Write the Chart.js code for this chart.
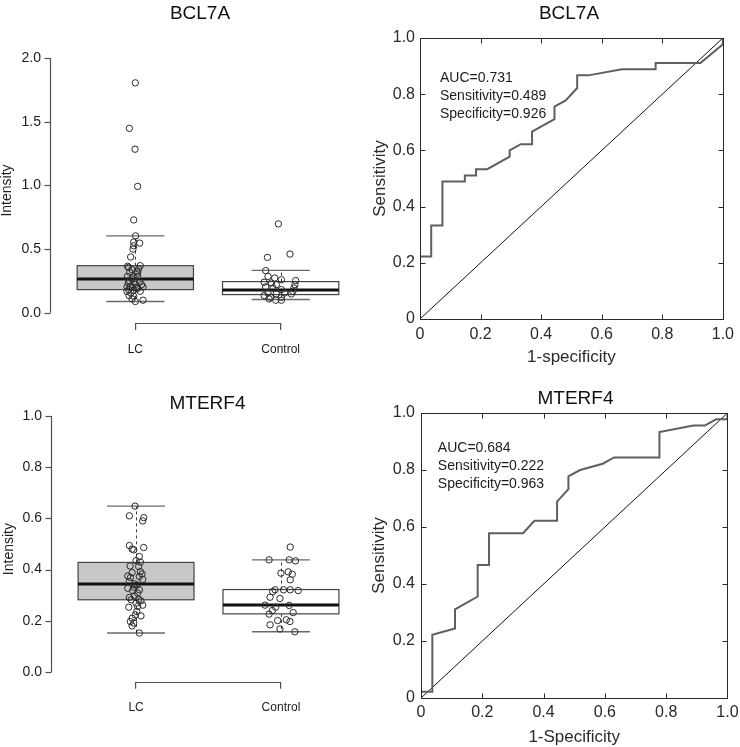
<!DOCTYPE html>
<html>
<head>
<meta charset="utf-8">
<script src="https://cdn.jsdelivr.net/npm/chart.js@4.4.0/dist/chart.umd.min.js"></script>
<style>
  html, body { margin: 0; padding: 0; background: #fff; overflow: hidden; }
  .panel { position: absolute; }
</style>
</head>
<body>
<div class="panel" style="left:0;top:0;width:370px;height:370px"><canvas id="boxBCL7A"></canvas></div>
<div class="panel" style="left:370px;top:0;width:370px;height:370px"><canvas id="rocBCL7A"></canvas></div>
<div class="panel" style="left:0;top:370px;width:370px;height:377px"><canvas id="boxMTERF4"></canvas></div>
<div class="panel" style="left:370px;top:370px;width:374px;height:377px"><canvas id="rocMTERF4"></canvas></div>
<script>
// ---- data ----
const GROUPS = ['LC', 'Control'];

// box stats: [lower whisker, Q1, median, Q3, upper whisker]
const BCL7A_LC_STATS = [0.089, 0.182, 0.266, 0.370, 0.604];
const BCL7A_CTRL_STATS = [0.104, 0.143, 0.180, 0.245, 0.333];
const MTERF4_LC_STATS = [0.152, 0.282, 0.344, 0.428, 0.648];
const MTERF4_CTRL_STATS = [0.157, 0.227, 0.262, 0.322, 0.438];

// individual samples and their horizontal jitter
const BCL7A_LC_VALUES = [1.805, 1.448, 1.284, 0.992, 0.729, 0.604, 0.555, 0.547, 0.526, 0.500, 0.438, 0.370, 0.357, 0.339, 0.326,
  0.286, 0.286, 0.266, 0.247, 0.234, 0.221, 0.221, 0.203, 0.203, 0.203, 0.182, 0.177, 0.193, 0.167, 0.156,
  0.135, 0.109, 0.089, 0.099, 0.253, 0.312, 0.281, 0.208, 0.169, 0.247, 0.195, 0.318, 0.344, 0.365, 0.130];
const BCL7A_LC_JITTER = [0, -0.041, -0.002, 0.016, -0.011, 0.002, -0.011, 0.030, -0.011, -0.016, -0.032, 0.034, -0.046, -0.023, 0.011,
  -0.053, 0.016, -0.023, 0.030, -0.048, 0, 0.043, -0.057, -0.023, 0.053, -0.046, -0.011, 0.018, -0.057, -0.030,
  -0.043, -0.023, 0, 0.053, -0.041, 0.016, -0.016, -0.034, 0.034, -0.007, 0.007, -0.039, 0.023, -0.053, -0.011];
const BCL7A_CTRL_VALUES = [0.698, 0.461, 0.435, 0.331, 0.286, 0.273, 0.260, 0.253, 0.240, 0.234, 0.221, 0.221, 0.203, 0.195,
  0.195, 0.182, 0.169, 0.156, 0.148, 0.156, 0.148, 0.135, 0.122, 0.122, 0.109, 0.099, 0.099];
const BCL7A_CTRL_JITTER = [-0.016, 0.064, -0.091, -0.103, -0.087, -0.041, 0.005, 0.103, -0.114, -0.064, -0.030, 0.098, -0.103, -0.053,
  0.091, 0.005, 0.084, -0.087, -0.030, 0.027, 0.073, -0.114, -0.071, 0.005, -0.080, -0.034, 0.005];

const MTERF4_LC_VALUES = [0.648, 0.610, 0.603, 0.590, 0.494, 0.480, 0.486, 0.477, 0.451, 0.435, 0.429, 0.412, 0.392, 0.388, 0.375,
  0.369, 0.362, 0.373, 0.353, 0.344, 0.340, 0.327, 0.321, 0.318, 0.291, 0.297, 0.284, 0.278, 0.269, 0.261,
  0.253, 0.256, 0.223, 0.219, 0.210, 0.197, 0.191, 0.180, 0.152, 0.236, 0.282, 0.331, 0.383, 0.414, 0.308];
const MTERF4_LC_JITTER = [-0.007, -0.046, 0.053, 0.046, -0.046, -0.027, 0.053, -0.016, 0.023, 0, 0.030, 0.018, 0.030, -0.027, -0.057,
  -0.039, 0.046, 0.023, -0.046, -0.011, 0.007, -0.057, 0.023, -0.023, -0.046, -0.011, 0.018, 0.034, 0, 0.046,
  -0.050, 0.011, -0.005, 0.034, -0.027, -0.039, -0.016, -0.027, 0.023, 0.005, -0.034, -0.011, 0.041, -0.041, 0.011];
const MTERF4_CTRL_VALUES = [0.488, 0.438, 0.438, 0.434, 0.391, 0.386, 0.382, 0.360, 0.321, 0.321, 0.321, 0.318, 0.314, 0.292,
  0.287, 0.261, 0.260, 0.253, 0.240, 0.232, 0.226, 0.201, 0.204, 0.197, 0.184, 0.168, 0.157];
const MTERF4_CTRL_JITTER = [0.064, -0.082, 0.057, 0.100, 0.050, 0, 0.078, 0.064, -0.041, 0.018, 0.064, 0.119, -0.057, -0.075,
  -0.007, -0.110, 0.057, -0.037, -0.059, 0.084, -0.082, -0.023, 0.037, 0.062, -0.075, -0.007, 0.096];

const BCL7A_Y_TICKS = [0, 0.5, 1.0, 1.5, 2.0];
const MTERF4_Y_TICKS = [0, 0.2, 0.4, 0.6, 0.8, 1.0];

// ROC curves (1 - specificity, sensitivity)
const BCL7A_FPR = [0, 0, 0.037, 0.037, 0.074, 0.074, 0.148, 0.148, 0.185, 0.185, 0.222, 0.296, 0.296, 0.333, 0.370, 0.370,
  0.444, 0.444, 0.481, 0.519, 0.519, 0.556, 0.667, 0.778, 0.778, 0.926, 1.0, 1.0];
const BCL7A_TPR = [0, 0.222, 0.222, 0.333, 0.333, 0.489, 0.489, 0.511, 0.511, 0.533, 0.533, 0.578, 0.600, 0.622, 0.622, 0.667,
  0.711, 0.756, 0.778, 0.822, 0.867, 0.867, 0.889, 0.889, 0.911, 0.911, 0.978, 1.0];
const MTERF4_FPR = [0, 0, 0.037, 0.037, 0.111, 0.111, 0.185, 0.185, 0.222, 0.222, 0.333, 0.370, 0.444, 0.444, 0.481, 0.481,
  0.519, 0.593, 0.630, 0.778, 0.778, 0.889, 0.926, 0.963, 1.0, 1.0];
const MTERF4_TPR = [0, 0.022, 0.022, 0.222, 0.244, 0.311, 0.356, 0.467, 0.467, 0.578, 0.578, 0.622, 0.622, 0.689, 0.733, 0.778,
  0.800, 0.822, 0.844, 0.844, 0.933, 0.956, 0.956, 0.978, 0.978, 1.0];
const ROC_TICKS = [0, 0.2, 0.4, 0.6, 0.8, 1.0];

const BCL7A_ROC_TEXT = ['AUC=0.731', 'Sensitivity=0.489', 'Specificity=0.926'];
const MTERF4_ROC_TEXT = ['AUC=0.684', 'Sensitivity=0.222', 'Specificity=0.963'];

// ---- styling ----
const FONT = '"Liberation Sans", Arial, Helvetica, sans-serif';
const INK = '#1c1c1c';
const AXIS = '#505050';
const BOX_HALF = 0.4;

function seg(ctx, x1, y1, x2, y2) {
    ctx.beginPath();
    ctx.moveTo(x1, y1);
    ctx.lineTo(x2, y2);
    ctx.stroke();
}

function crisp(v) {
    return Math.round(v) + 0.5;
}

function titlePlugin(text, cx, baseline) {
    return {
        id: 'panelTitle',
        afterDraw(chart) {
            const ctx = chart.ctx;
            ctx.save();
            ctx.font = '19px ' + FONT;
            ctx.fillStyle = '#111';
            ctx.textAlign = 'center';
            ctx.textBaseline = 'alphabetic';
            ctx.fillText(text, cx, baseline);
            ctx.restore();
        }
    };
}

// R-style box: dashed whiskers, caps, filled box, thick median
function boxPlotPlugin(groups, caps) {
    return {
        id: 'boxPlot',
        beforeDatasetsDraw(chart) {
            const {ctx, scales: {x, y}} = chart;
            const py = v => y.getPixelForValue(v);
            groups.forEach((g, i) => {
                const c = i + 1;
                const [lo, q1, med, q3, hi] = g.stats;
                const xc = crisp(x.getPixelForValue(c));
                const xl = x.getPixelForValue(c - BOX_HALF);
                const xr = x.getPixelForValue(c + BOX_HALF);
                const cl = x.getPixelForValue(c + caps[0]);
                const cr = x.getPixelForValue(c + caps[1]);
                ctx.save();
                ctx.strokeStyle = '#3a3a3a';
                ctx.lineWidth = 1;
                ctx.setLineDash([3, 3]);
                seg(ctx, xc, py(q3), xc, py(hi));
                seg(ctx, xc, py(q1), xc, py(lo));
                ctx.setLineDash([]);
                ctx.strokeStyle = '#6a6a6a';
                ctx.lineWidth = 1.4;
                seg(ctx, cl, py(hi), cr, py(hi));
                seg(ctx, cl, py(lo), cr, py(lo));
                const yt = py(q3), yb = py(q1);
                ctx.fillStyle = g.fill;
                ctx.fillRect(xl, yt, xr - xl, yb - yt);
                ctx.strokeStyle = '#444';
                ctx.lineWidth = 1.2;
                ctx.strokeRect(xl, yt, xr - xl, yb - yt);
                ctx.strokeStyle = '#111';
                ctx.lineWidth = 3;
                seg(ctx, xl, py(med), xr, py(med));
                ctx.restore();
            });
        }
    };
}

// axis lines that only span first..last tick, like base R
const rAxesPlugin = {
    id: 'rAxes',
    afterDraw(chart) {
        const {ctx, chartArea, scales: {x, y}} = chart;
        const yt = y.ticks, xt = x.ticks;
        ctx.save();
        ctx.strokeStyle = AXIS;
        ctx.lineWidth = 1.2;
        const ax = crisp(chartArea.left - 1);
        seg(ctx, ax, y.getPixelForValue(yt[0].value), ax, y.getPixelForValue(yt[yt.length - 1].value));
        yt.forEach(t => {
            const py = crisp(y.getPixelForValue(t.value));
            seg(ctx, ax - 6, py, ax, py);
        });
        const ay = crisp(chartArea.bottom);
        seg(ctx, x.getPixelForValue(xt[0].value), ay, x.getPixelForValue(xt[xt.length - 1].value), ay);
        ctx.restore();
    }
};

// closed frame with inward tick marks on all four sides
const framePlugin = {
    id: 'frame',
    afterDatasetsDraw(chart) {
        const {ctx, chartArea: a, scales: {x, y}} = chart;
        const L = crisp(a.left), R = crisp(a.right), T = crisp(a.top), B = crisp(a.bottom);
        ctx.save();
        ctx.strokeStyle = '#2a2a2a';
        ctx.lineWidth = 1;
        ctx.strokeRect(L, T, R - L, B - T);
        x.ticks.forEach(t => {
            const px = crisp(x.getPixelForValue(t.value));
            seg(ctx, px, B, px, B - 5);
            seg(ctx, px, T, px, T + 5);
        });
        y.ticks.forEach(t => {
            const py = crisp(y.getPixelForValue(t.value));
            seg(ctx, L, py, L + 5, py);
            seg(ctx, R, py, R - 5, py);
        });
        ctx.restore();
    }
};

function rocTextPlugin(lines, at, step) {
    return {
        id: 'rocText',
        afterDatasetsDraw(chart) {
            const {ctx, scales: {x, y}} = chart;
            ctx.save();
            ctx.font = '14px ' + FONT;
            ctx.fillStyle = INK;
            ctx.textAlign = 'left';
            ctx.textBaseline = 'alphabetic';
            lines.forEach((t, i) => {
                ctx.fillText(t, x.getPixelForValue(at[0]), y.getPixelForValue(at[1]) + i * step);
            });
            ctx.restore();
        }
    };
}

function makeBoxChart(id, o) {
    const datasets = o.groups.map((g, i) => ({
        data: g.values.map((v, k) => ({x: i + 1 + g.jitter[k], y: v})),
        pointRadius: 3.2,
        pointBorderWidth: 1,
        pointBorderColor: '#2b2b2b',
        pointBackgroundColor: 'rgba(255,255,255,0)',
        showLine: false
    }));

    return new Chart(document.getElementById(id), {
        type: 'scatter',
        data: {datasets: datasets},
        options: {
            responsive: true,
            maintainAspectRatio: false,
            animation: false,
            layout: {padding: {top: o.top, right: o.padRight, left: 0, bottom: 0}},
            plugins: {
                legend: {display: false},
                tooltip: {enabled: false},
                title: {display: false}
            },
            scales: {
                x: {
                    type: 'linear',
                    min: 0.42,
                    max: 2.58,
                    afterBuildTicks: s => { s.ticks = GROUPS.map((_, i) => ({value: i + 1})); },
                    afterFit: s => { s.height = o.xHeight; },
                    ticks: {
                        callback: v => GROUPS[Math.round(v) - 1],
                        color: INK,
                        font: {family: FONT, size: 12},
                        padding: o.xLabelPad,
                        maxRotation: 0
                    },
                    grid: {drawOnChartArea: false, drawTicks: true, tickLength: o.tickLen, color: AXIS, lineWidth: 1.2},
                    border: {display: false}
                },
                y: {
                    type: 'linear',
                    min: o.yMin,
                    max: o.yMax,
                    afterBuildTicks: s => { s.ticks = o.yTicks.map(v => ({value: v})); },
                    afterFit: s => { s.width = o.yWidth; },
                    ticks: {
                        callback: v => v.toFixed(1),
                        color: INK,
                        font: {family: FONT, size: 14},
                        padding: 4
                    },
                    grid: {display: false, drawTicks: true, tickLength: 6},
                    border: {display: false},
                    title: {
                        display: true,
                        text: 'Intensity',
                        color: INK,
                        font: {family: FONT, size: 14, lineHeight: 1},
                        padding: {top: o.yTitlePad, bottom: 0}
                    }
                }
            }
        },
        plugins: [boxPlotPlugin(o.groups, o.caps), rAxesPlugin, titlePlugin(o.title, o.titleX, o.titleY)]
    });
}

function makeRocChart(id, o) {
    return new Chart(document.getElementById(id), {
        type: 'line',
        data: {
            datasets: [
                {
                    data: o.fpr.map((f, i) => ({x: f, y: o.tpr[i]})),
                    borderColor: '#5f5f5f',
                    borderWidth: 2,
                    pointRadius: 0,
                    tension: 0
                },
                {
                    data: [{x: 0, y: 0}, {x: 1, y: 1}],
                    borderColor: '#111',
                    borderWidth: 1,
                    pointRadius: 0
                }
            ]
        },
        options: {
            responsive: true,
            maintainAspectRatio: false,
            animation: false,
            layout: {padding: {top: o.top, right: o.padRight, left: 0, bottom: 0}},
            plugins: {
                legend: {display: false},
                tooltip: {enabled: false},
                title: {display: false}
            },
            scales: {
                x: {
                    type: 'linear',
                    min: 0,
                    max: 1,
                    afterBuildTicks: s => { s.ticks = ROC_TICKS.map(v => ({value: v})); },
                    afterFit: s => { s.height = o.xHeight; },
                    ticks: {
                        callback: v => v === 0 ? '0' : v.toFixed(1),
                        color: '#2a2a2a',
                        font: {family: FONT, size: 16},
                        padding: o.xLabelPad,
                        maxRotation: 0
                    },
                    grid: {display: false, drawTicks: false},
                    border: {display: false},
                    title: {
                        display: true,
                        text: o.xTitle,
                        color: '#2a2a2a',
                        font: {family: FONT, size: 17, lineHeight: 1},
                        padding: {top: 0, bottom: o.xTitlePad}
                    }
                },
                y: {
                    type: 'linear',
                    min: 0,
                    max: 1,
                    afterBuildTicks: s => { s.ticks = ROC_TICKS.map(v => ({value: v})); },
                    afterFit: s => { s.width = o.yWidth; },
                    ticks: {
                        callback: v => v === 0 ? '0' : v.toFixed(1),
                        color: '#2a2a2a',
                        font: {family: FONT, size: 16},
                        padding: o.yLabelPad
                    },
                    grid: {display: false, drawTicks: false},
                    border: {display: false},
                    title: {
                        display: true,
                        text: 'Sensitivity',
                        color: '#2a2a2a',
                        font: {family: FONT, size: 17, lineHeight: 1},
                        padding: {top: o.yTitlePad, bottom: 0}
                    }
                }
            }
        },
        plugins: [framePlugin, rocTextPlugin(o.text, o.textAt, o.textStep), titlePlugin(o.title, o.titleX, o.titleY)]
    });
}

makeBoxChart('boxBCL7A', {
    title: 'BCL7A', titleX: 200, titleY: 18.5,
    groups: [
        {stats: BCL7A_LC_STATS, values: BCL7A_LC_VALUES, jitter: BCL7A_LC_JITTER, fill: '#c8c8c8'},
        {stats: BCL7A_CTRL_STATS, values: BCL7A_CTRL_VALUES, jitter: BCL7A_CTRL_JITTER, fill: '#ffffff'}
    ],
    caps: [-0.2, 0.2],
    yTicks: BCL7A_Y_TICKS, yMin: -0.08, yMax: 2.0,
    top: 58, padRight: 4, yWidth: 51, xHeight: 47,
    tickLen: 7, xLabelPad: 12.8, yTitlePad: 0
});

makeRocChart('rocBCL7A', {
    title: 'BCL7A', titleX: 199, titleY: 18.5,
    fpr: BCL7A_FPR, tpr: BCL7A_TPR, xTitle: '1-specificity',
    text: BCL7A_ROC_TEXT, textAt: [0.066, 0.8445], textStep: 18,
    top: 38, padRight: 16, yWidth: 50, xHeight: 51,
    xLabelPad: 6, xTitlePad: 4.5, yLabelPad: 5, yTitlePad: 1.5
});

makeBoxChart('boxMTERF4', {
    title: 'MTERF4', titleX: 207.5, titleY: 39.3,
    groups: [
        {stats: MTERF4_LC_STATS, values: MTERF4_LC_VALUES, jitter: MTERF4_LC_JITTER, fill: '#c8c8c8'},
        {stats: MTERF4_CTRL_STATS, values: MTERF4_CTRL_VALUES, jitter: MTERF4_CTRL_JITTER, fill: '#ffffff'}
    ],
    caps: [-0.2, 0.2],
    yTicks: MTERF4_Y_TICKS, yMin: -0.04, yMax: 1.0,
    top: 46, padRight: 2.3, yWidth: 52, xHeight: 64.8,
    tickLen: 6.5, xLabelPad: 12.1, yTitlePad: 1.7
});

makeRocChart('rocMTERF4', {
    title: 'MTERF4', titleX: 205.5, titleY: 34.3,
    fpr: MTERF4_FPR, tpr: MTERF4_TPR, xTitle: '1-Specificity',
    text: MTERF4_ROC_TEXT, textAt: [0.055, 0.864], textStep: 18.3,
    top: 43, padRight: 14, yWidth: 51, xHeight: 49,
    xLabelPad: 5.4, xTitlePad: 1.5, yLabelPad: 6, yTitlePad: 1
});
</script>
</body>
</html>
